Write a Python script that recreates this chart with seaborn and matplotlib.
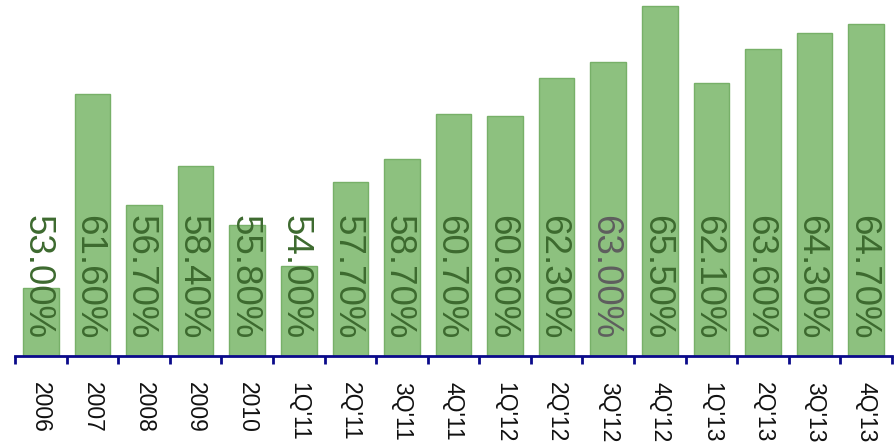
import matplotlib
matplotlib.use("Agg")
import matplotlib.pyplot as plt
import seaborn as sns
import pandas as pd
import numpy as np

periods = ["2006", "2007", "2008", "2009", "2010",
           "1Q'11", "2Q'11", "3Q'11", "4Q'11",
           "1Q'12", "2Q'12", "3Q'12", "4Q'12",
           "1Q'13", "2Q'13", "3Q'13", "4Q'13"]
share = [53.0, 61.6, 56.7, 58.4, 55.8,
         54.0, 57.7, 58.7, 60.7,
         60.6, 62.3, 63.0, 65.5,
         62.1, 63.6, 64.3, 64.7]

df = pd.DataFrame({"period": periods, "share": share})

sns.set_style("white")
plt.rcParams["font.family"] = ["Liberation Sans", "DejaVu Sans"]

BAR = "#8dc17f"
EDGE = "#77b068"
LABEL_GREEN = "#3d6a2f"
LABEL_GREY = "#5e5e5e"
AXIS = "#0a0a8a"

fig = plt.figure(figsize=(8.95, 4.47), dpi=100)
ax = fig.add_axes([15 / 895, 91 / 447, 877 / 895, 356 / 447])

sns.barplot(data=df, x="period", y="share", color=BAR, saturation=1,
            width=0.69, edgecolor=EDGE, linewidth=1.0, ax=ax)

ax.set_xlim(-0.5, len(periods) - 0.5)
ax.set_ylim(50.0, 65.75)

# value labels, all starting at the same height, rotated
# (small left nudge so the digits sit in the middle of the bar)
for i, v in enumerate(share):
    c = LABEL_GREY if periods[i] == "3Q'12" else LABEL_GREEN
    ax.text(i - 0.07, 56.24, f"{v:.2f}%", rotation=-90, ha="center", va="top",
            fontsize=26.5, color=c)

for s in ["top", "left", "right"]:
    ax.spines[s].set_visible(False)
ax.spines["bottom"].set_color(AXIS)
ax.spines["bottom"].set_linewidth(2)

ax.set_yticks([])
ax.set_xlabel("")
ax.set_ylabel("")
ax.set_xticks(np.arange(-0.5, len(periods)), minor=True)
ax.tick_params(axis="x", which="minor", bottom=True, length=6, width=2, color=AXIS)
ax.tick_params(axis="x", which="major", length=0, pad=19, labelsize=16.5,
               labelrotation=-90, labelcolor="#111111")

fig.savefig("out.png", dpi=100)
